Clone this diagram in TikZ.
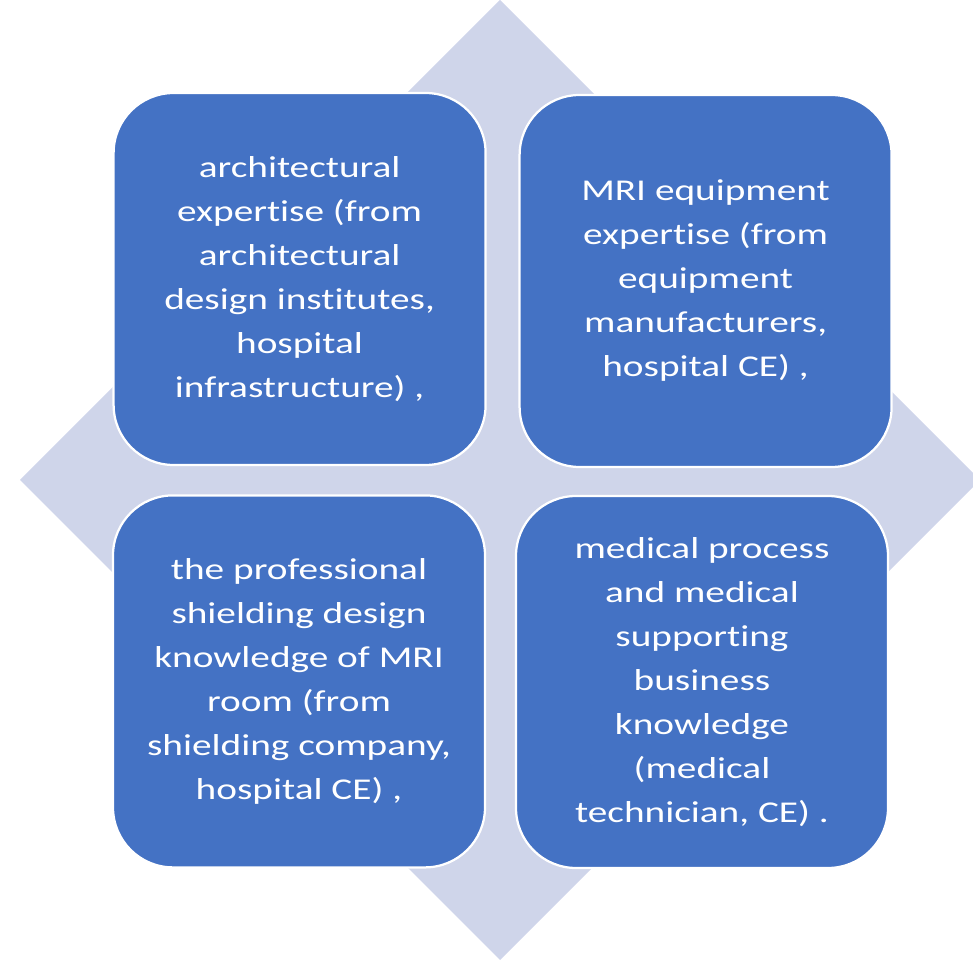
\documentclass[tikz,border=0pt]{standalone}
\usepackage{fontspec}
\setmainfont{Carlito}[FakeStretch=1.3, Ligatures=NoCommon]
\usepackage{xcolor}

\definecolor{boxblue}{HTML}{4472C4}
\definecolor{diamondgray}{HTML}{CFD5EA}

\begin{document}
\begin{tikzpicture}[
    area/.style={draw=white, line width=1.6pt, fill=boxblue, rounded corners=1.5cm,
      minimum width=9.3cm, minimum height=9.3cm, align=center, text=white,
      font=\fontsize{21.5}{31.3}\selectfont}
  ]
  % Page frame
  \useasboundingbox (0, 0) rectangle (24.325, 23.975);
  \clip (0, 0) rectangle (24.325, 23.975);

  % Background diamond
  \fill[diamondgray] (12.5, 23.975) -- (24.5, 11.975) -- (12.5, -0.025) -- (0.5, 11.975) -- cycle;

  % Top row
  \node[area] (arch) at (7.49, 17.0)
    {architectural\\expertise (from\\architectural\\design institutes,\\hospital\\infrastructure) ,};
  \node[area] (mri) at (17.64, 16.95)
    {MRI equipment\\expertise (from\\equipment\\manufacturers,\\hospital CE) ,};
  % Bottom row
  \node[area] (shield) at (7.475, 6.94)
    {the professional\\shielding design\\knowledge of MRI\\room (from\\shielding company,\\hospital CE) ,};
  \node[area] (medical) at (17.55, 6.925)
    {medical process\\and medical\\supporting\\business\\knowledge\\(medical\\technician, CE) .};
\end{tikzpicture}
\end{document}
